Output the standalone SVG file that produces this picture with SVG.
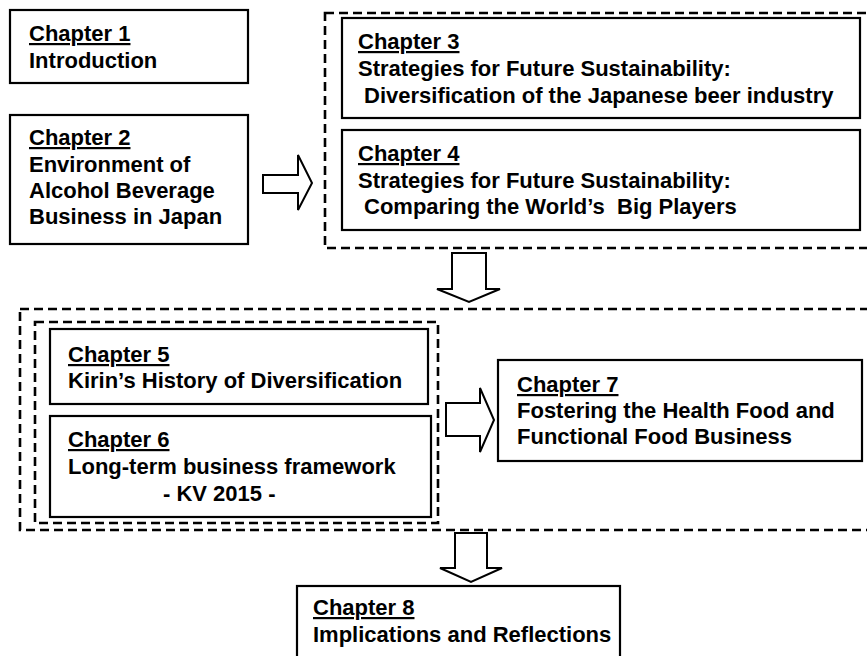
<svg xmlns="http://www.w3.org/2000/svg" width="867" height="656" viewBox="0 0 867 656">
<style>
  .box { fill: #ffffff; stroke: #000000; stroke-width: 2.2; }
  .grp { fill: none; stroke: #000000; stroke-width: 2.6; stroke-dasharray: 9 5; }
  .arrow { fill: #ffffff; stroke: #000000; stroke-width: 2; stroke-linejoin: miter; }
  text { font-family: "Liberation Sans", Arial, sans-serif; font-weight: bold; font-size: 22px; fill: #000000; }
  .hd { text-decoration: underline; }
</style>
<rect width="867" height="656" fill="#ffffff"/>

<g id="group-ch3-4">
  <rect class="grp" x="325" y="13" width="560" height="235"/>
</g>
<g id="group-ch5-7">
  <rect class="grp" x="20" y="309" width="870" height="221"/>
</g>
<g id="group-ch5-6">
  <rect class="grp" x="35" y="322" width="403" height="201"/>
</g>

<g id="ch1">
  <rect class="box" x="10" y="10" width="238" height="73"/>
  <text class="hd" x="29" y="41">Chapter 1</text>
  <text x="29" y="68">Introduction</text>
</g>

<g id="ch2">
  <rect class="box" x="10" y="115" width="238" height="129"/>
  <text class="hd" x="29" y="145">Chapter 2</text>
  <text x="29" y="172">Environment of</text>
  <text x="29" y="198">Alcohol Beverage</text>
  <text x="29" y="224">Business in Japan</text>
</g>

<g id="ch3">
  <rect class="box" x="342" y="18" width="518" height="100"/>
  <text class="hd" x="358" y="49">Chapter 3</text>
  <text x="358" y="76">Strategies for Future Sustainability:</text>
  <text x="364" y="103">Diversification of the Japanese beer industry</text>
</g>

<g id="ch4">
  <rect class="box" x="342" y="130" width="518" height="100"/>
  <text class="hd" x="358" y="161">Chapter 4</text>
  <text x="358" y="188">Strategies for Future Sustainability:</text>
  <text x="364" y="214" xml:space="preserve">Comparing the World’s  Big Players</text>
</g>

<g id="ch5">
  <rect class="box" x="50" y="329" width="378" height="75"/>
  <text class="hd" x="68" y="362">Chapter 5</text>
  <text x="68" y="388">Kirin’s History of Diversification</text>
</g>

<g id="ch6">
  <rect class="box" x="50" y="416" width="381" height="101"/>
  <text class="hd" x="68" y="447">Chapter 6</text>
  <text x="68" y="474">Long-term business framework</text>
  <text x="163" y="501">- KV 2015 -</text>
</g>

<g id="ch7">
  <rect class="box" x="498" y="360" width="364" height="101"/>
  <text class="hd" x="517" y="392">Chapter 7</text>
  <text x="517" y="418">Fostering the Health Food and</text>
  <text x="517" y="444">Functional Food Business</text>
</g>

<g id="ch8">
  <rect class="box" x="297" y="586" width="323" height="80"/>
  <text class="hd" x="313" y="615">Chapter 8</text>
  <text x="313" y="642">Implications and Reflections</text>
</g>

<g id="connectors">
  <polygon class="arrow" points="263,175 298,175 298,155 312,183 298,210 298,193 263,193"/>
  <polygon class="arrow" points="452,253 486,253 486,289 500,289 469,302 437,289 452,289"/>
  <polygon class="arrow" points="446,403 480,403 480,388 494,420 480,452 480,436 446,436"/>
  <polygon class="arrow" points="455,533 487,533 487,568 502,568 471,582 440,568 455,568"/>
</g>
</svg>
